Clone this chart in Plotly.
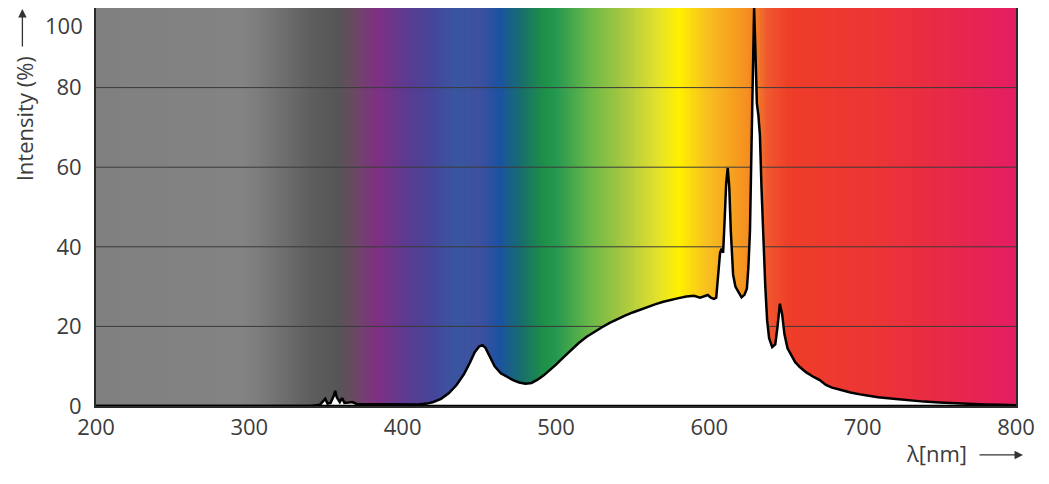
import numpy as np
import plotly.graph_objects as go

# spectrum (wavelength nm, relative intensity %)
wavelength = [200, 340, 346, 348, 349.5, 351, 353, 355, 356, 357, 359, 360.5, 362, 365, 367,
              370, 380, 390, 400, 410, 416, 420, 425, 430, 435, 440, 444, 447, 450, 452,
              454, 457, 460, 464, 468, 472, 476, 480, 484, 488, 492, 496, 500, 505, 510,
              515, 520, 525, 530, 535, 540, 545, 550, 555, 560, 565, 570, 575, 580, 585,
              590, 594, 597, 599, 601, 603, 604.5, 605.5, 607, 608, 609, 610, 611, 612, 613,
              614, 615.5, 617, 619, 621, 623, 624.5, 625.5, 626.5, 627.5, 628.5, 629.2, 630, 631, 632,
              633, 634, 635, 636.5, 637.7, 639, 641, 643, 644.5, 646, 647.5, 649, 651, 653,
              656, 659, 663, 668, 672, 676, 680, 686, 692, 700, 710, 720, 730, 740, 750,
              760, 770, 780, 790, 800]
intensity = [0, 0, 0.3, 1.2, 1.8, 0.6, 0.8, 2.5, 3.8, 2.2, 1.0, 2.0, 0.8, 0.9, 1.0,
             0.5, 0.5, 0.4, 0.4, 0.4, 0.6, 1.0, 1.8, 3.2, 5.2, 8.0, 11.0, 13.5, 15.0, 15.3,
             14.6, 12.3, 10.0, 8.2, 7.3, 6.5, 5.9, 5.6, 5.8, 6.6, 7.7, 9.0, 10.4, 12.3, 14.2,
             15.9, 17.4, 18.7, 19.8, 20.9, 21.9, 22.7, 23.5, 24.2, 25.0, 25.6, 26.2, 26.7, 27.1, 27.5,
             27.7, 27.2, 27.6, 27.9, 27.2, 26.9, 27.2, 32, 38.5, 39.5, 38.5, 47, 56, 59.8, 55,
             44, 33, 30, 28.5, 27.3, 28, 29.5, 35, 44, 65, 90, 100, 90, 76, 73,
             68, 55, 43, 30, 21.5, 17, 14.8, 15.5, 20, 25.7, 23, 18, 14.5, 13,
             11, 9.8, 8.5, 7.3, 6.5, 5.3, 4.6, 4.0, 3.4, 2.8, 2.2, 1.8, 1.4, 1.1, 0.9,
             0.7, 0.5, 0.4, 0.3, 0.2]

x_ticks = [200, 300, 400, 500, 600, 700, 800]
y_ticks = [0, 20, 40, 60, 80, 100]
grid_levels = [20, 40, 60, 80]

# background colour band along the wavelength axis
band_nm = [200, 295, 305, 340, 358, 368, 383, 402, 417, 435, 450, 463, 478, 492, 500,
           522, 544, 565, 580, 598, 624, 632, 637, 652, 707, 750, 800]
band_col = ["#808080", "#838383", "#7d7d7d", "#5e5e5e", "#555555", "#6a4a62", "#7f3083",
            "#5c3a90", "#474498", "#3a55a0", "#3e509e", "#1b52a2", "#17706a", "#1e9048",
            "#259850", "#6ab848", "#a8c840", "#e0e030", "#fff000", "#f8c020", "#f59020",
            "#f07a28", "#f05a30", "#ee3d28", "#ec3535", "#e82a45", "#e41d64"]

colorscale = [[(n - 200) / 600, c] for n, c in zip(band_nm, band_col)]
edges = np.arange(200, 801, 1.0)
mids = (edges[:-1] + edges[1:]) / 2

fig = go.Figure()
fig.add_trace(go.Heatmap(x=edges, y=[0, 100], z=[mids], colorscale=colorscale,
                         zmin=200, zmax=800, showscale=False, hoverinfo="skip"))
for g in grid_levels:
    fig.add_trace(go.Scatter(x=[200, 800], y=[g, g], mode="lines",
                             line=dict(color="#3a3a3a", width=1), hoverinfo="skip"))
fig.add_trace(go.Scatter(x=wavelength, y=intensity, mode="lines", fill="tozeroy",
                         fillcolor="white", line=dict(color="black", width=2.5),
                         hoverinfo="skip"))
fig.add_trace(go.Scatter(x=[200, 800], y=[0, 0], mode="lines",
                         line=dict(color="black", width=2.5), hoverinfo="skip"))

tick_font = dict(family="Open Sans", size=22, color="#3c3c3c")
title_font = dict(family="Open Sans", size=22, color="#3c3c3c")
fig.update_layout(
    width=1049, height=484,
    margin=dict(l=88, r=41, t=0, b=86, autoexpand=False),
    paper_bgcolor="white", plot_bgcolor="white",
    showlegend=False,
    font=tick_font,
    xaxis=dict(range=[200, 800], tickvals=x_ticks, showgrid=False, zeroline=False,
               showline=True, mirror=True, linecolor="#2a2a2a", linewidth=2,
               ticks="", ticklabelstandoff=1, tickfont=tick_font, automargin=False,
               ticklabeloverflow="allow"),
    yaxis=dict(range=[0, 100], tickvals=y_ticks[:-1], showgrid=False, zeroline=False,
               showline=True, mirror=True, linecolor="#2a2a2a", linewidth=2,
               ticks="", ticklabelstandoff=8, tickfont=tick_font, automargin=False,
               ticklabeloverflow="allow"),
    annotations=[
        # top tick label sits just below the frame so it is not clipped
        dict(text=str(y_ticks[-1]), xref="paper", yref="y", x=0, y=y_ticks[-1],
             xanchor="right", yanchor="top", xshift=-11, yshift=0,
             showarrow=False, font=tick_font),
        dict(text="Intensity (%)", xref="paper", yref="paper", x=-0.078, y=0.721,
             xanchor="center", yanchor="middle",
             textangle=-90, showarrow=False, font=title_font),
        dict(text="", xref="paper", yref="paper", x=-0.08, y=1.0075, ax=0, ay=43,
             showarrow=True, arrowhead=2, arrowsize=1.3, arrowwidth=1.3, arrowcolor="#333"),
        dict(text="λ[nm]", xref="paper", yref="paper", x=0.914, y=-0.118,
             xanchor="center", yanchor="middle", showarrow=False, font=title_font),
        dict(text="", xref="paper", yref="paper", x=1.0076, y=-0.123, ax=-45, ay=0,
             showarrow=True, arrowhead=2, arrowsize=1.3, arrowwidth=1.3, arrowcolor="#333"),
    ],
)

fig.write_html("out.html")
